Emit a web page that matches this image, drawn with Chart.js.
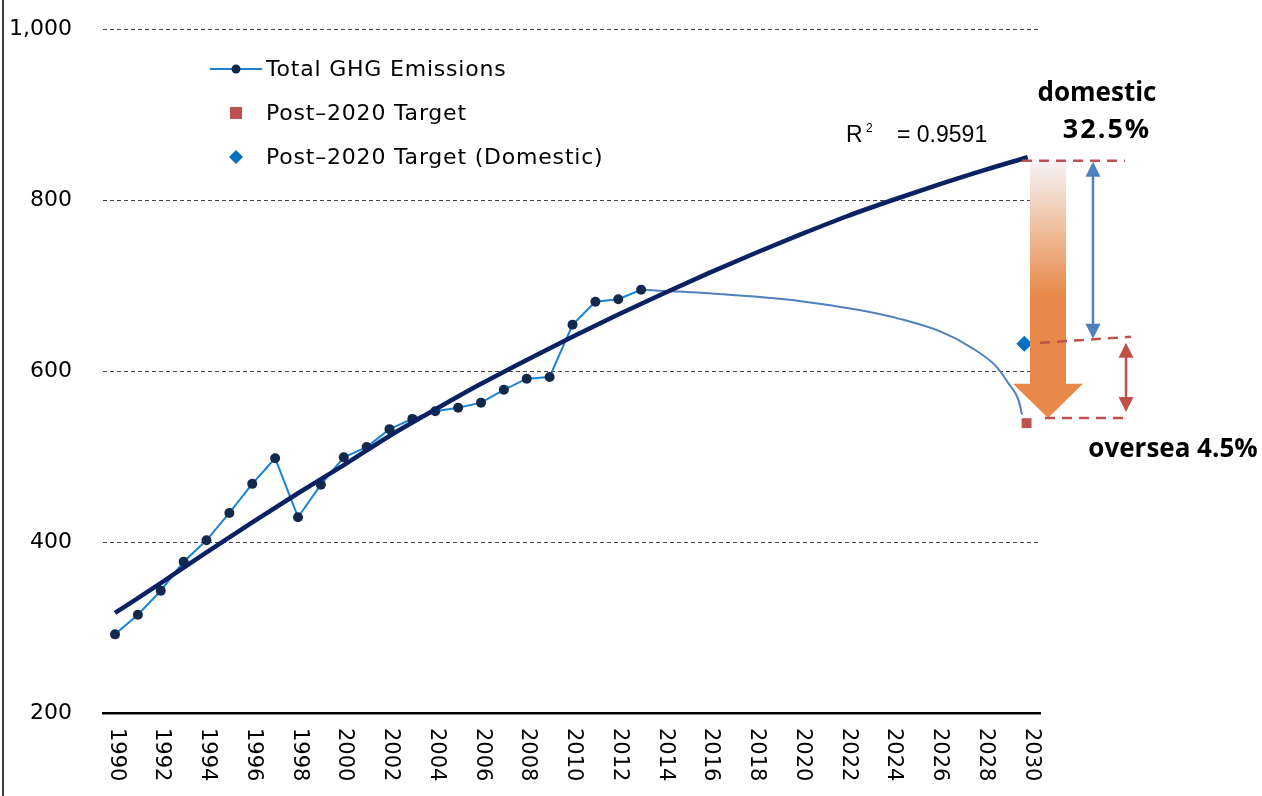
<!DOCTYPE html>
<html>
<head>
<meta charset="utf-8">
<script src="https://cdn.jsdelivr.net/npm/chart.js@4.4.1/dist/chart.umd.min.js"></script>
<style>
  html, body { margin: 0; padding: 0; background: #fff; }
  #wrap { width: 1262px; height: 796px; }
</style>
</head>
<body>
<div id="wrap"><canvas id="grafico" width="1262" height="796"></canvas></div>
<script>
// observed emissions (Mt CO2-eq)
const years = [1990, 1991, 1992, 1993, 1994, 1995, 1996, 1997, 1998, 1999, 2000, 2001,
               2002, 2003, 2004, 2005, 2006, 2007, 2008, 2009, 2010, 2011, 2012, 2013];
const emissions = [292, 315, 343, 377, 402, 434, 468, 498, 429, 467, 499, 511,
                   532, 544, 553, 557, 563, 578, 591, 593, 654, 681, 684, 695];

// log trend (BAU)
const trendYears = [1990, 1992, 1994, 1996, 1998, 2000, 2002, 2004, 2006, 2008, 2010,
                    2012, 2014, 2016, 2018, 2020, 2022, 2024, 2026, 2028, 2029.9];
const trendValues = [317, 352, 388, 423, 457, 490, 524, 555, 585, 613, 640,
                     666, 691, 715, 738, 760, 781, 800, 818, 835, 850];

// reduction path towards the target
const pathYears = [2013, 2016.4, 2019.9, 2022.6, 2024.3, 2026.1, 2027.4, 2028.5, 2029.1, 2029.5, 2029.65];
const pathValues = [695, 690, 682, 671, 661, 646, 628, 606, 584, 566, 549];

const targetYear = 2029.85;
const targetTotal = 539;
const targetDomestic = 632;

const tickYears = [1990, 1992, 1994, 1996, 1998, 2000, 2002, 2004, 2006, 2008, 2010,
                   2012, 2014, 2016, 2018, 2020, 2022, 2024, 2026, 2028, 2030];
const yTicks = [200, 400, 600, 800, 1000];

const legendLabels = ['Total GHG Emissions', 'Post\u20132020 Target', 'Post\u20132020 Target (Domestic)'];

const pts = (xs, ys) => xs.map((x, i) => ({ x: x, y: ys[i] }));

// axis labels: y right-aligned, x rotated clockwise (top to bottom)
const ejes = {
    id: 'ejes',
    afterDraw(chart) {
        const ctx = chart.ctx;
        const sx = chart.scales.x;
        const sy = chart.scales.y;
        const area = chart.chartArea;
        ctx.save();
        ctx.fillStyle = '#000';
        ctx.font = '22px "DejaVu Sans"';
        ctx.textAlign = 'right';
        ctx.textBaseline = 'middle';
        yTicks.forEach(v => {
            ctx.fillText(v.toLocaleString('en-US'), area.left - 31, sy.getPixelForValue(v));
        });
        ctx.font = '21px "DejaVu Sans"';
        ctx.textAlign = 'left';
        tickYears.forEach(yr => {
            ctx.save();
            ctx.translate(sx.getPixelForValue(yr) + 1, area.bottom + 15);
            ctx.rotate(Math.PI / 2);
            ctx.fillText(String(yr), 0, 0);
            ctx.restore();
        });
        ctx.restore();
    }
};

// frame line on the far left
const marco = {
    id: 'marco',
    beforeDraw(chart) {
        const ctx = chart.ctx;
        ctx.save();
        ctx.fillStyle = '#fff';
        ctx.fillRect(0, 0, chart.width, chart.height);
        ctx.strokeStyle = '#000';
        ctx.lineWidth = 1.5;
        ctx.beginPath();
        ctx.moveTo(3, 0);
        ctx.lineTo(3, chart.height);
        ctx.stroke();
        ctx.restore();
    }
};

const leyenda = {
    id: 'leyenda',
    afterDraw(chart) {
        const ctx = chart.ctx;
        ctx.save();
        ctx.font = '22px "DejaVu Sans"';
        ctx.letterSpacing = '0.8px';
        ctx.textBaseline = 'middle';
        const rows = [69, 113, 157];
        // line + dot
        ctx.strokeStyle = '#1f7fd3';
        ctx.lineWidth = 2;
        ctx.beginPath();
        ctx.moveTo(210, rows[0]);
        ctx.lineTo(262, rows[0]);
        ctx.stroke();
        ctx.fillStyle = '#13294b';
        ctx.beginPath();
        ctx.arc(236, rows[0], 4.5, 0, Math.PI * 2);
        ctx.fill();
        // square
        ctx.fillStyle = '#c0504d';
        ctx.fillRect(230, rows[1] - 6, 12, 12);
        // diamond
        ctx.fillStyle = '#0070c0';
        ctx.beginPath();
        ctx.moveTo(236, rows[2] - 7);
        ctx.lineTo(243, rows[2]);
        ctx.lineTo(236, rows[2] + 7);
        ctx.lineTo(229, rows[2]);
        ctx.closePath();
        ctx.fill();
        ctx.fillStyle = '#000';
        legendLabels.forEach((t, i) => ctx.fillText(t, 266, rows[i] + 1));
        ctx.restore();
    }
};

const flecha = (ctx, x, y1, y2, color) => {
    ctx.strokeStyle = color;
    ctx.fillStyle = color;
    ctx.lineWidth = 2.5;
    ctx.beginPath();
    ctx.moveTo(x, y1 + 12);
    ctx.lineTo(x, y2 - 12);
    ctx.stroke();
    [[y1, 1], [y2, -1]].forEach(([y, d]) => {
        ctx.beginPath();
        ctx.moveTo(x, y);
        ctx.lineTo(x - 7.5, y + d * 15);
        ctx.lineTo(x + 7.5, y + d * 15);
        ctx.closePath();
        ctx.fill();
    });
};

const anotaciones = {
    id: 'anotaciones',
    afterDatasetsDraw(chart) {
        const ctx = chart.ctx;
        const sx = chart.scales.x;
        const sy = chart.scales.y;
        const x0 = sx.getPixelForValue(2030);
        const yTop = sy.getPixelForValue(846);
        const yHead = sy.getPixelForValue(585);
        const yTip = sy.getPixelForValue(545);
        const yMidL = sy.getPixelForValue(633);
        const yMidR = sy.getPixelForValue(640);

        ctx.save();
        // big orange arrow
        const grad = ctx.createLinearGradient(0, yTop, 0, yTop + 135);
        grad.addColorStop(0, '#f6f4f8');
        grad.addColorStop(0.45, '#efc4a6');
        grad.addColorStop(1, '#e8894a');
        ctx.fillStyle = grad;
        ctx.beginPath();
        ctx.moveTo(x0, yTop);
        ctx.lineTo(x0 + 36, yTop);
        ctx.lineTo(x0 + 36, yHead);
        ctx.lineTo(x0 + 53, yHead);
        ctx.lineTo(x0 + 18, yTip);
        ctx.lineTo(x0 - 17, yHead);
        ctx.lineTo(x0, yHead);
        ctx.closePath();
        ctx.fill();

        // red dashed guides
        ctx.strokeStyle = '#c0504d';
        ctx.lineWidth = 2.5;
        ctx.setLineDash([10, 7]);
        ctx.beginPath();
        ctx.moveTo(x0 - 8, yTop);
        ctx.lineTo(x0 + 95, yTop);
        ctx.moveTo(x0 + 10, yMidL);
        ctx.lineTo(x0 + 101, yMidR);
        ctx.moveTo(x0 + 15, yTip);
        ctx.lineTo(x0 + 95, yTip);
        ctx.stroke();
        ctx.setLineDash([]);

        flecha(ctx, x0 + 63, yTop + 1, yMidL - 4, '#4f81bd');
        flecha(ctx, x0 + 96, yMidR + 6, yTip - 6, '#c0504d');

        // labels
        ctx.fillStyle = '#000';
        ctx.font = 'bold 26px "Open Sans"';
        ctx.textAlign = 'center';
        ctx.textBaseline = 'middle';
        ctx.fillText('domestic', x0 + 67, 94);
        ctx.letterSpacing = '2px';
        ctx.font = 'bold 27px "Open Sans"';
        ctx.fillText('32.5%', x0 + 77, 130);
        ctx.letterSpacing = '0px';
        ctx.font = 'bold 26px "Open Sans"';
        ctx.fillText('oversea 4.5%', x0 + 143, 450);

        ctx.font = '23px "Liberation Sans"';
        ctx.textAlign = 'left';
        ctx.fillText('R', 846, 136);
        ctx.font = '12px "Liberation Sans"';
        ctx.fillText('2', 866, 129);
        ctx.font = '23px "Liberation Sans"';
        ctx.fillText('= 0.9591', 897, 136);
        ctx.restore();
    }
};

const ctx = document.getElementById('grafico').getContext('2d');
const chart = new Chart(ctx, {
    type: 'line',
    data: {
        datasets: [
            {
                label: legendLabels[0],
                data: pts(years, emissions),
                borderColor: '#1a84d6',
                borderWidth: 2,
                pointRadius: 5,
                pointBackgroundColor: '#13294b',
                pointBorderWidth: 0,
                order: 1
            },
            {
                label: 'Trend',
                data: pts(trendYears, trendValues),
                borderColor: '#0a2262',
                borderWidth: 4.5,
                pointRadius: 0,
                cubicInterpolationMode: 'monotone',
                order: 0
            },
            {
                label: 'Path',
                data: pts(pathYears, pathValues),
                borderColor: '#4f81bd',
                borderWidth: 2,
                pointRadius: 0,
                cubicInterpolationMode: 'monotone',
                order: 2
            },
            {
                label: legendLabels[1],
                data: [{ x: targetYear, y: targetTotal }],
                showLine: false,
                pointStyle: 'rect',
                pointRadius: 7,
                pointBackgroundColor: '#c0504d',
                pointBorderWidth: 0,
                order: 3
            },
            {
                label: legendLabels[2],
                data: [{ x: targetYear - 0.1, y: targetDomestic }],
                showLine: false,
                pointStyle: 'rectRot',
                pointRadius: 8,
                pointBackgroundColor: '#0070c0',
                pointBorderWidth: 0,
                order: 4
            }
        ]
    },
    options: {
        responsive: false,
        animation: false,
        devicePixelRatio: 1,
        layout: { padding: { left: 0, right: 222, top: 29, bottom: 0 } },
        plugins: {
            legend: { display: false },
            tooltip: { enabled: false }
        },
        scales: {
            x: {
                type: 'linear',
                min: 1989.475,
                max: 2030.437,
                grid: { display: false },
                border: { display: true, color: '#000', width: 2.5 },
                ticks: { display: false },
                afterFit: axis => { axis.height = 83; }
            },
            y: {
                min: 200,
                max: 1000,
                afterBuildTicks: axis => { axis.ticks = yTicks.map(v => ({ value: v })); },
                afterFit: axis => { axis.width = 103; },
                border: { display: false, dash: [4, 3] },
                grid: { color: '#444', lineWidth: 1, drawTicks: false },
                ticks: { display: false }
            }
        }
    },
    plugins: [marco, ejes, leyenda, anotaciones]
});
</script>
</body>
</html>
